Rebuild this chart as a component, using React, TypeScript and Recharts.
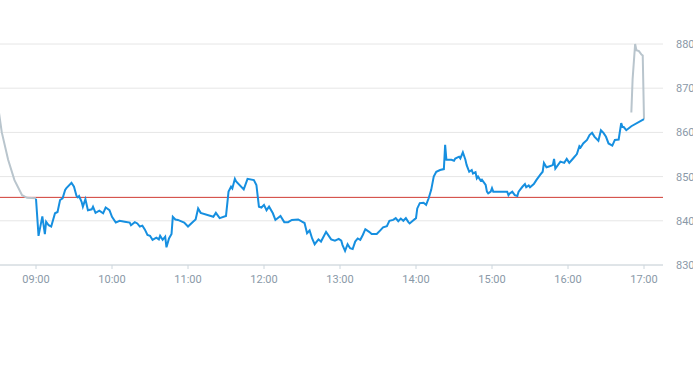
import { LineChart, Line, XAxis, YAxis, CartesianGrid, ReferenceLine } from "recharts";

// pre-market (grey), session (blue), after-hours (grey)
const PRE_TIMES = ["08:30", "08:33", "08:38", "08:43", "08:49", "08:53", "09:00"];
const PRE_VALUES = [866, 860, 853.8, 849.2, 845.8, 845.2, 845.1];

const MAIN_TIMES = [
  "09:00", "09:02", "09:05", "09:07", "09:08", "09:10", "09:12", "09:15", "09:17", "09:19",
  "09:21", "09:23", "09:24", "09:28", "09:30", "09:32", "09:33", "09:34", "09:36", "09:37",
  "09:39", "09:41", "09:44", "09:45", "09:47", "09:50", "09:53", "09:55", "09:58", "10:00",
  "10:03", "10:06", "10:10", "10:14", "10:15", "10:18", "10:20", "10:22", "10:24", "10:26",
  "10:28", "10:30", "10:32", "10:35", "10:37", "10:38", "10:40", "10:42", "10:43", "10:45",
  "10:47", "10:48", "10:50", "10:52", "10:57", "11:00", "11:04", "11:06", "11:08", "11:10",
  "11:20", "11:22", "11:25", "11:30", "11:32", "11:34", "11:35", "11:37", "11:38", "11:44",
  "11:47", "11:52", "11:54", "11:56", "11:58", "12:00", "12:02", "12:04", "12:07", "12:09",
  "12:13", "12:16", "12:19", "12:22", "12:27", "12:30", "12:32", "12:34", "12:36", "12:38",
  "12:40", "12:43", "12:45", "12:49", "12:53", "12:56", "12:59", "13:01", "13:02", "13:04",
  "13:06", "13:08", "13:10", "13:12", "13:14", "13:16", "13:18", "13:20", "13:23", "13:25",
  "13:29", "13:32", "13:34", "13:37", "13:39", "13:42", "13:44", "13:46", "13:48", "13:50",
  "13:52", "13:54", "13:55", "13:57", "14:00", "14:01", "14:03", "14:06", "14:08", "14:10",
  "14:12", "14:14", "14:16", "14:19", "14:22", "14:23", "14:24", "14:28", "14:30", "14:31",
  "14:34", "14:35", "14:37", "14:39", "14:40", "14:42", "14:44", "14:45", "14:47", "14:48",
  "14:49", "14:51", "14:52", "14:55", "14:56", "14:57", "14:59", "15:00", "15:01", "15:12",
  "15:13", "15:14", "15:16", "15:18", "15:20", "15:21", "15:24", "15:26", "15:27", "15:29",
  "15:30", "15:33", "15:35", "15:38", "15:40", "15:41", "15:43", "15:45", "15:48", "15:49",
  "15:50", "15:54", "15:57", "15:59", "16:01", "16:04", "16:07", "16:09", "16:10", "16:12",
  "16:15", "16:17", "16:19", "16:21", "16:24", "16:26", "16:28", "16:30", "16:32", "16:35",
  "16:37", "16:40", "16:42", "16:43", "16:44", "16:46", "16:50", "17:00",
];
const MAIN_VALUES = [
  845.0, 836.6, 841.0, 837.0, 839.8, 839.0, 838.7, 841.7, 842.0, 844.7,
  845.1, 847.0, 847.4, 848.6, 847.7, 845.6, 845.3, 845.6, 844.3, 843.2,
  844.9, 842.4, 842.6, 843.2, 841.8, 842.3, 841.7, 843.0, 842.4, 840.9,
  839.6, 840.0, 839.8, 839.6, 839.0, 839.7, 839.4, 838.7, 838.9, 838.0,
  836.8, 836.6, 835.7, 836.2, 835.8, 836.6, 835.7, 836.4, 834.0, 836.0,
  837.0, 840.9, 840.3, 840.2, 839.6, 838.7, 839.8, 840.3, 842.8, 841.8,
  840.9, 841.8, 840.6, 841.1, 846.6, 847.7, 847.3, 849.5, 848.9, 847.1,
  849.5, 849.2, 848.1, 843.2, 843.0, 843.6, 842.4, 843.2, 841.7, 840.2,
  841.1, 839.7, 839.7, 840.2, 840.3, 839.8, 839.5, 837.2, 837.8, 836.0,
  834.7, 835.8, 835.3, 837.5, 835.8, 835.5, 835.9, 835.5, 834.5, 833.2,
  834.7, 833.8, 833.6, 835.3, 836.0, 835.7, 836.8, 838.1, 837.5, 837.0,
  837.0, 837.9, 838.5, 838.8, 840.0, 840.2, 840.6, 839.9, 840.5, 840.0,
  840.6, 839.7, 839.4, 839.9, 840.6, 842.8, 844.0, 844.1, 843.6, 845.1,
  847.0, 850.0, 851.1, 851.5, 851.7, 857.2, 853.8, 853.8, 853.6, 854.1,
  854.5, 854.1, 855.5, 853.8, 852.6, 851.1, 851.5, 850.7, 851.0, 849.6,
  850.0, 849.1, 849.3, 848.1, 846.6, 846.2, 846.6, 847.4, 846.6, 846.6,
  845.8, 846.2, 846.6, 845.8, 845.6, 846.6, 847.7, 848.3, 847.6, 848.0,
  847.6, 848.3, 849.2, 850.4, 851.1, 853.1, 852.1, 852.3, 852.6, 854.0,
  851.8, 853.4, 853.1, 854.0, 853.1, 854.1, 855.1, 856.9, 856.6, 857.5,
  858.3, 859.4, 859.9, 859.0, 858.1, 860.5, 859.9, 859.0, 857.5, 857.0,
  858.3, 858.4, 862.1, 861.2, 861.2, 860.5, 861.4, 863.0,
];

const POST_TIMES = ["16:50", "16:51", "16:53", "16:54", "16:56", "16:58", "16:59", "17:00"];
const POST_VALUES = [864.5, 872, 880, 878.6, 878.4, 877.6, 877.4, 863];

const PREV_CLOSE = 845.3;
const X_TICKS = ["09:00", "10:00", "11:00", "12:00", "13:00", "14:00", "15:00", "16:00", "17:00"];
const Y_TICKS = [830, 840, 850, 860, 870, 880];

const toMin = (s: string) => {
  const [h, m] = s.split(":").map(Number);
  return h * 60 + m;
};
const fmt = (v: number) =>
  `${String(Math.floor(v / 60)).padStart(2, "0")}:${String(v % 60).padStart(2, "0")}`;

const zip = (times: string[], values: number[]) =>
  times.map((t, i) => ({ t: toMin(t), v: values[i] }));

const pre = zip(PRE_TIMES, PRE_VALUES);
const main = zip(MAIN_TIMES, MAIN_VALUES);
const post = zip(POST_TIMES, POST_VALUES);

const tickStyle = { fill: "#8a99a8", fontSize: 11, fontFamily: "Roboto, Arial, sans-serif" };

export default function App() {
  return (
    <div style={{ position: "absolute", left: -2, top: 0 }}>
      <LineChart width={697} height={300} margin={{ top: 44, right: 0, bottom: 0, left: 0 }}>
        <CartesianGrid vertical={false} stroke="#e6e6e6" />
        <XAxis
          type="number"
          dataKey="t"
          domain={[510, 1035]}
          ticks={X_TICKS.map(toMin)}
          tickFormatter={fmt}
          stroke="#ccd6dd"
          tick={tickStyle}
          tickSize={4}
          tickMargin={6}
          height={35}
        />
        <YAxis
          orientation="right"
          domain={[830, 880]}
          ticks={Y_TICKS}
          axisLine={false}
          tickLine={false}
          tick={tickStyle}
          tickSize={6}
          tickMargin={7}
          width={32}
        />
        <ReferenceLine y={PREV_CLOSE} stroke="#d03a32" strokeWidth={1} />
        <Line data={pre} dataKey="v" type="linear" stroke="#b9c5cd" strokeWidth={2} dot={false} isAnimationActive={false} />
        <Line data={post} dataKey="v" type="linear" stroke="#b9c5cd" strokeWidth={2} dot={false} isAnimationActive={false} />
        <Line data={main} dataKey="v" type="linear" stroke="#168fe0" strokeWidth={2} dot={false} isAnimationActive={false} />
      </LineChart>
    </div>
  );
}
